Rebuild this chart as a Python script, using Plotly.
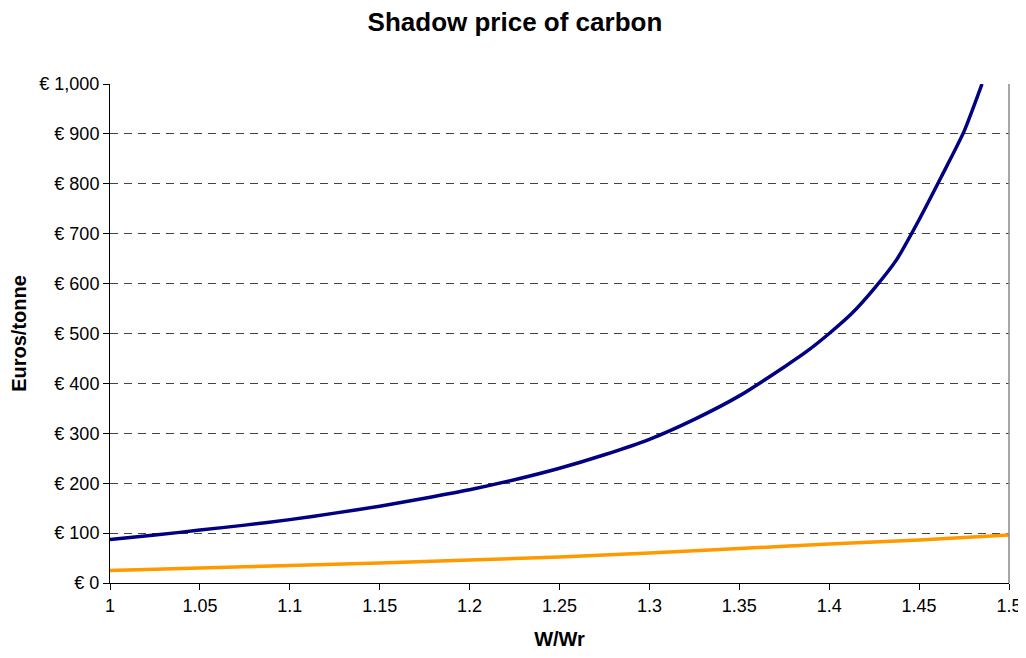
import plotly.graph_objects as go

# W/Wr ratio values and shadow prices (Euros/tonne)
x_blue = [1.00, 1.025, 1.05, 1.075, 1.10, 1.125, 1.15, 1.175, 1.20, 1.225, 1.25,
          1.275, 1.30, 1.325, 1.35, 1.375, 1.3875, 1.40, 1.4125, 1.425, 1.4375,
          1.45, 1.4625, 1.475, 1.485]
y_blue = [87, 96, 106, 116, 127, 140, 154, 170, 187, 207, 230,
          257, 288, 328, 375, 433, 464, 500, 540, 590, 648,
          728, 815, 905, 1000]

x_orange = [1.00, 1.05, 1.10, 1.15, 1.20, 1.25, 1.30, 1.35, 1.40, 1.45, 1.50]
y_orange = [25, 30, 35, 40, 46, 52, 60, 69, 78, 86, 96]

x_ticks = [1, 1.05, 1.1, 1.15, 1.2, 1.25, 1.3, 1.35, 1.4, 1.45, 1.5]
x_ticktext = ["1", "1.05", "1.1", "1.15", "1.2", "1.25", "1.3", "1.35", "1.4", "1.45", "1.5"]
y_ticks = [0, 100, 200, 300, 400, 500, 600, 700, 800, 900, 1000]
y_ticktext = ["€ 0", "€ 100", "€ 200", "€ 300", "€ 400", "€ 500", "€ 600",
              "€ 700", "€ 800", "€ 900", "€ 1,000"]

FONT = "Liberation Sans, Arial, sans-serif"

fig = go.Figure()
fig.add_trace(go.Scatter(x=x_blue, y=y_blue, mode="lines",
                         line=dict(color="#000080", width=3.5, shape="spline", smoothing=0.6),
                         showlegend=False))
fig.add_trace(go.Scatter(x=x_orange, y=y_orange, mode="lines",
                         line=dict(color="#FF9900", width=3.5, shape="spline", smoothing=0.5),
                         showlegend=False))

fig.update_layout(
    width=1018, height=642,
    paper_bgcolor="white", plot_bgcolor="white",
    margin=dict(l=102, r=17, t=76, b=67),
    font=dict(family=FONT, color="black", size=18),
    title=dict(text="<b>Shadow price of carbon</b>", x=0.498, xanchor="center",
               yref="container", y=0.978, yanchor="middle",
               font=dict(size=26, family=FONT, color="black")),
    xaxis=dict(range=[1, 1.5], tickvals=x_ticks, ticktext=x_ticktext, automargin=False,
               showgrid=False, zeroline=False, showline=True, linecolor="black", linewidth=1,
               ticks="outside", ticklen=6, tickcolor="black",
               tickfont=dict(size=18),
               title=dict(text="<b>W/Wr</b>", font=dict(size=20), standoff=17)),
    yaxis=dict(range=[0, 1000], tickvals=y_ticks, ticktext=y_ticktext, automargin=False,
               showgrid=True, gridcolor="#444444", gridwidth=1, griddash="8px,6px",
               zeroline=False, showline=True, linecolor="black", linewidth=1,
               ticks="outside", ticklen=6, tickcolor="black",
               tickfont=dict(size=18),
               title=dict(text="<b>Euros/tonne</b>", font=dict(size=20), standoff=17)),
)
fig.add_shape(type="line", xref="paper", yref="paper", x0=1, x1=1, y0=0, y1=1,
              line=dict(color="#888888", width=1.5))

fig.write_html("out.html")
